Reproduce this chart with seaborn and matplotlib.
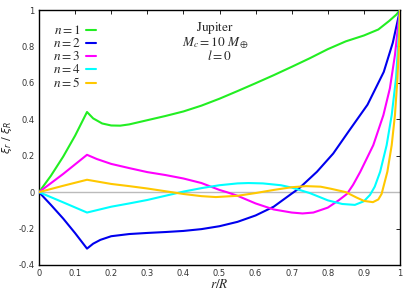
import matplotlib
matplotlib.use("Agg")
import matplotlib.pyplot as plt
import seaborn as sns
import pandas as pd

# ---- data ----
x_n1 = [0, 0.033, 0.067, 0.1, 0.133, 0.15, 0.175, 0.2, 0.225, 0.25, 0.3, 0.35, 0.4, 0.45, 0.5,
        0.55, 0.6, 0.65, 0.7, 0.75, 0.8, 0.85, 0.9, 0.94, 0.97, 0.99, 1.0]
y_n1 = [0, 0.09, 0.195, 0.31, 0.44, 0.405, 0.377, 0.366, 0.365, 0.372, 0.395, 0.418, 0.443, 0.475, 0.513,
        0.555, 0.598, 0.642, 0.688, 0.735, 0.785, 0.828, 0.86, 0.893, 0.94, 0.975, 1.0]

x_n2 = [0, 0.033, 0.067, 0.1, 0.133, 0.15, 0.17, 0.2, 0.25, 0.3, 0.35, 0.4, 0.45, 0.5, 0.55, 0.6,
        0.65, 0.7, 0.72, 0.77, 0.815, 0.86, 0.91, 0.955, 0.98, 1.0]
y_n2 = [0, -0.07, -0.145, -0.225, -0.31, -0.283, -0.262, -0.242, -0.23, -0.224, -0.219, -0.213, -0.203,
        -0.187, -0.163, -0.128, -0.08, -0.008, 0.02, 0.112, 0.212, 0.34, 0.48, 0.66, 0.82, 1.0]

x_n3 = [0, 0.067, 0.133, 0.16, 0.2, 0.25, 0.3, 0.35, 0.4, 0.45, 0.5, 0.52, 0.55, 0.6, 0.65, 0.7, 0.73,
        0.76, 0.8, 0.83, 0.853, 0.87, 0.89, 0.926, 0.954, 0.972, 0.986, 0.995, 1.0]
y_n3 = [0, 0.1, 0.205, 0.182, 0.155, 0.132, 0.11, 0.094, 0.075, 0.05, 0.012, 0.0, -0.02, -0.062, -0.095,
        -0.112, -0.117, -0.112, -0.085, -0.045, -0.01, 0.04, 0.112, 0.258, 0.423, 0.57, 0.753, 0.918, 1.0]

x_n4 = [0, 0.067, 0.133, 0.2, 0.25, 0.3, 0.35, 0.4, 0.45, 0.5, 0.55, 0.58, 0.62, 0.67, 0.7, 0.75, 0.8,
        0.84, 0.875, 0.9, 0.917, 0.93, 0.945, 0.963, 0.977, 0.989, 0.995, 1.0]
y_n4 = [0, -0.056, -0.112, -0.08, -0.062, -0.043, -0.02, 0.003, 0.022, 0.038, 0.048, 0.05, 0.048, 0.038,
        0.025, -0.005, -0.045, -0.065, -0.07, -0.05, -0.015, 0.03, 0.112, 0.258, 0.423, 0.626, 0.81, 1.0]

x_n5 = [0, 0.067, 0.133, 0.2, 0.25, 0.3, 0.35, 0.4, 0.45, 0.49, 0.55, 0.6, 0.65, 0.7, 0.74, 0.78, 0.81,
        0.85, 0.88, 0.9, 0.925, 0.94, 0.949, 0.965, 0.977, 0.986, 0.993, 0.998, 1.0]
y_n5 = [0, 0.035, 0.068, 0.045, 0.033, 0.02, 0.005, -0.01, -0.022, -0.027, -0.02, -0.005, 0.012, 0.027,
        0.033, 0.03, 0.018, 0.0, -0.03, -0.048, -0.055, -0.04, -0.01, 0.112, 0.258, 0.423, 0.626, 0.85, 1.0]

labels = ["$n = 1$", "$n = 2$", "$n = 3$", "$n = 4$", "$n = 5$"]
colors = ["#22ee22", "#0000ee", "#ff00ff", "#00ffff", "#ffc800"]

xticks = [0, 0.1, 0.2, 0.3, 0.4, 0.5, 0.6, 0.7, 0.8, 0.9, 1.0]
xticklabels = ["0", "0.1", "0.2", "0.3", "0.4", "0.5", "0.6", "0.7", "0.8", "0.9", "1"]
yticks = [-0.4, -0.2, 0, 0.2, 0.4, 0.6, 0.8, 1.0]
yticklabels = ["-0.4", "-0.2", "0", "0.2", "0.4", "0.6", "0.8", "1"]

# ---- build long table ----
frames = []
for lab, xs, ys in zip(labels, [x_n1, x_n2, x_n3, x_n4, x_n5], [y_n1, y_n2, y_n3, y_n4, y_n5]):
    frames.append(pd.DataFrame({"x": xs, "y": ys, "n": lab}))
df = pd.concat(frames, ignore_index=True)

sns.set_theme(style="white")
plt.rcParams["font.family"] = ["DejaVu Sans"]
plt.rcParams["mathtext.fontset"] = "stix"

fig = plt.figure(figsize=(4.15, 2.91), dpi=100)
ax = fig.add_axes([39 / 415, 26 / 291, 361 / 415, 255 / 291])

ax.axhline(0, color="#bbbbbb", lw=1.0, zorder=1)

sns.lineplot(data=df, x="x", y="y", hue="n", palette=dict(zip(labels, colors)),
             estimator=None, sort=False, lw=1.5, ax=ax, zorder=3)

ax.set_xlim(0, 1)
ax.set_ylim(-0.4, 1.0)
ax.set_xticks(xticks, labels=xticklabels)
ax.set_yticks(yticks, labels=yticklabels)
ax.tick_params(direction="in", length=3, width=0.6, top=True, right=True,
               labelsize=6, colors="black", labelcolor="#333333", pad=3)
for s in ax.spines.values():
    s.set_color("black")
    s.set_linewidth(1.0)

ax.set_xlabel("$r/R$", fontsize=9.5, labelpad=0)
ax.set_ylabel(r"$\xi_r\ /\ \xi_R$", fontsize=8, math_fontfamily="dejavusans")
ax.yaxis.set_label_coords(-0.068, 0.5)

handles, labs = ax.get_legend_handles_labels()
ax.legend(handles, labs, loc="upper left", bbox_to_anchor=(0.038, 0.945), frameon=False,
          markerfirst=False, fontsize=9.5, handlelength=0.8, handleheight=0.5, handletextpad=0.4,
          labelspacing=0.0, borderaxespad=0, borderpad=0)

ax.text(0.488, 0.918, r"$\mathrm{Jupiter}$", transform=ax.transAxes, ha="center", va="baseline",
        fontsize=9.5)
ax.text(0.488, 0.860, r"$M_c = 10\ M_\oplus$", transform=ax.transAxes, ha="center", va="baseline",
        fontsize=9.5)
ax.text(0.50, 0.804, r"$l = 0$", transform=ax.transAxes, ha="center", va="baseline", fontsize=9.5)

fig.savefig("out.png", dpi=100)
